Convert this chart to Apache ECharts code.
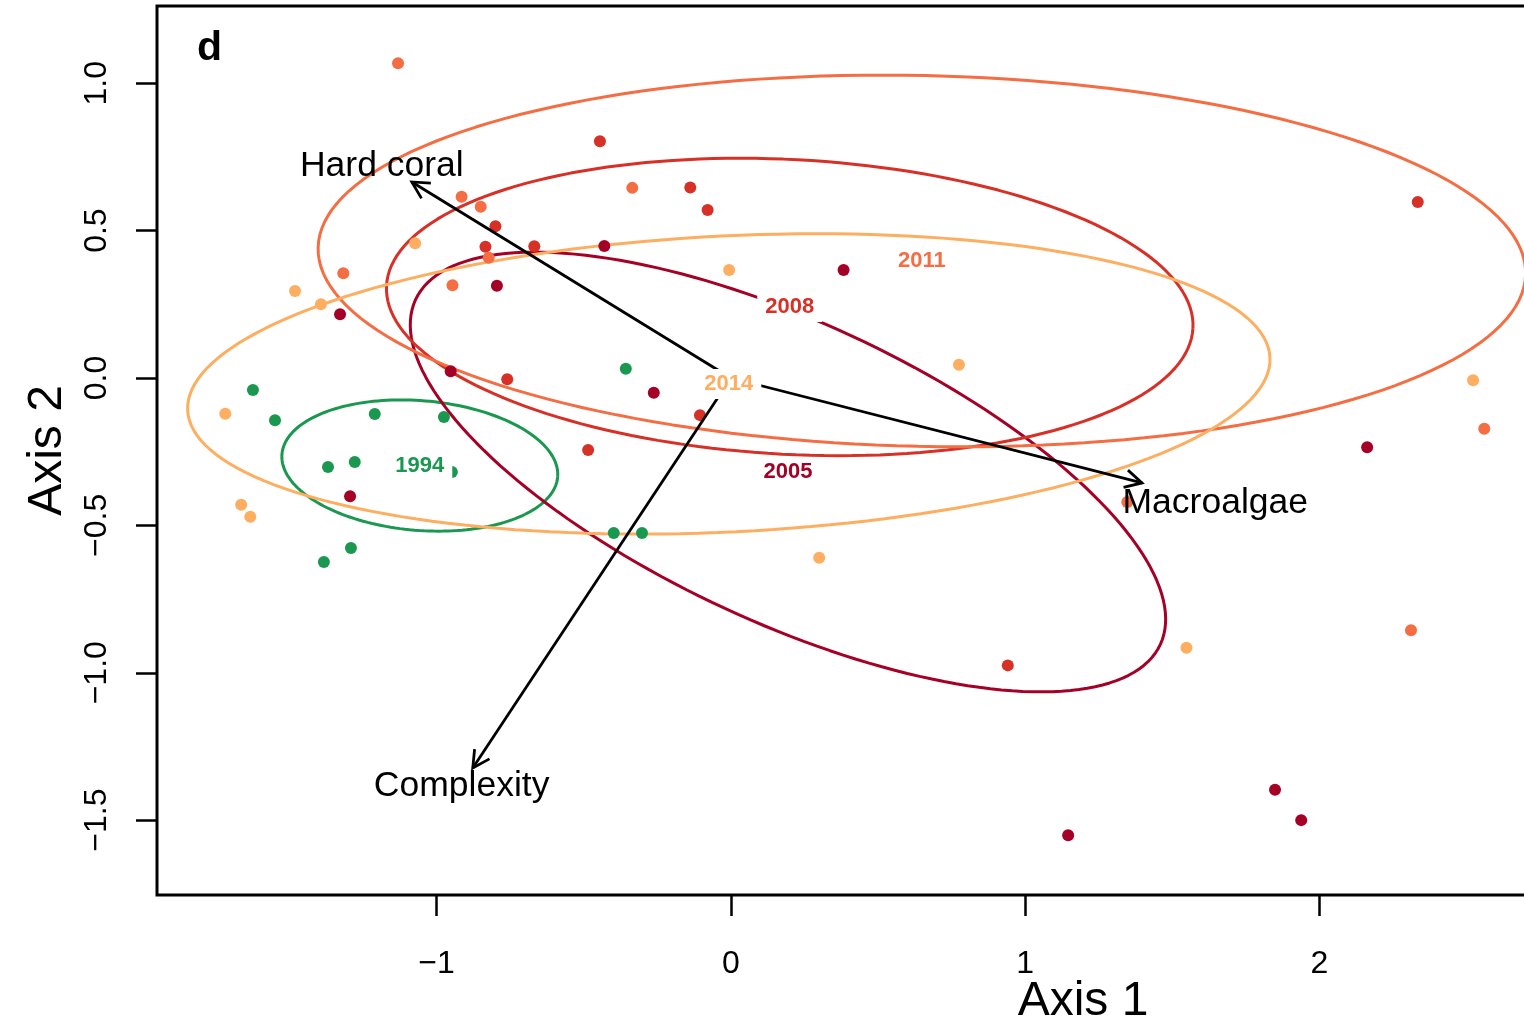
<!DOCTYPE html>
<html>
<head>
<meta charset="utf-8">
<script src="https://cdn.jsdelivr.net/npm/echarts@6/dist/echarts.min.js"></script>
<style>
  html, body { margin: 0; padding: 0; background: #fff; }
  #chart { width: 1524px; height: 1021px; }
</style>
</head>
<body>
<div id="chart"></div>
<script>
// Survey years and their colours
const years = ['1994', '2005', '2008', '2011', '2014'];
const yearColors = ['#1a9850', '#a50026', '#d73027', '#f46d43', '#fdae61'];

// Site scores [Axis 1, Axis 2] for each survey year
const sites1994 = [[-1.624, -0.041], [-1.549, -0.143], [-1.210, -0.122], [-0.975, -0.132],
  [-1.369, -0.302], [-1.278, -0.285], [-0.948, -0.319], [-0.357, 0.031], [-0.398, -0.526],
  [-0.302, -0.526], [-1.291, -0.577], [-1.383, -0.624]];
const sites2005 = [[-1.328, 0.216], [-1.294, -0.401], [-0.952, 0.023], [-0.795, 0.313],
  [-0.430, 0.448], [-0.262, -0.050], [0.383, 0.366], [1.146, -1.551], [1.849, -1.397],
  [1.938, -1.500], [2.162, -0.235]];
const sites2008 = [[-0.445, 0.803], [-0.138, 0.646], [-0.079, 0.570], [-0.800, 0.515],
  [-0.834, 0.445], [-0.668, 0.447], [-0.760, -0.004], [-0.485, -0.244], [-0.105, -0.126],
  [0.941, -0.975], [2.334, 0.597]];
const sites2011 = [[-1.131, 1.068], [-1.317, 0.355], [-0.915, 0.615], [-0.850, 0.581],
  [-0.823, 0.408], [-0.946, 0.315], [-0.335, 0.645], [1.347, -0.421], [2.560, -0.172],
  [2.311, -0.856]];
const sites2014 = [[-1.481, 0.295], [-1.393, 0.250], [-1.073, 0.457], [-1.718, -0.121],
  [-1.664, -0.430], [-1.633, -0.471], [-0.006, 0.366], [0.775, 0.045], [0.300, -0.610],
  [1.548, -0.915], [2.522, -0.008]];

// Group ellipses: centroid, semi-axes and rotation (degrees)
const ellipseCentres = [[-1.057, -0.297], [0.194, -0.319], [0.200, 0.241], [0.649, 0.397], [-0.007, -0.020]];
const ellipseAxes = [[0.470, 0.220], [1.394, 0.510], [1.372, 0.500], [2.052, 0.629], [1.841, 0.502]];
const ellipseAngles = [-4.7, -24.8, -3.0, -1.26, 2.79];

// Fitted environmental vectors
const vectorNames = ['Hard coral', 'Macroalgae', 'Complexity'];
const vectorHeads = [[-1.084, 0.665], [1.397, -0.356], [-0.877, -1.323]];
const vectorLabelPos = [[-1.186, 0.720], [1.646, -0.424], [-0.915, -1.385]];

// Axis ticks
const xTicks = [-1, 0, 1, 2];
const xTickLabels = ['\u22121', '0', '1', '2'];
const yTicks = [-1.5, -1, -0.5, 0, 0.5, 1];
const yTickLabels = ['\u22121.5', '\u22121.0', '\u22120.5', '0.0', '0.5', '1.0'];

const FONT = '"Liberation Sans", Arial, Helvetica, sans-serif';
const siteScores = [sites1994, sites2005, sites2008, sites2011, sites2014];

function ellipsePath(c, ax, angDeg) {
  const th = angDeg * Math.PI / 180;
  const pts = [];
  for (let k = 0; k <= 360; k += 2) {
    const t = k * Math.PI / 180;
    const u = ax[0] * Math.cos(t), v = ax[1] * Math.sin(t);
    pts.push([c[0] + u * Math.cos(th) - v * Math.sin(th), c[1] + u * Math.sin(th) + v * Math.cos(th)]);
  }
  return pts;
}

function tickText(ticks, labels) {
  return v => {
    const i = ticks.findIndex(t => Math.abs(t - v) < 1e-9);
    return i >= 0 ? labels[i] : '';
  };
}

const series = [];

years.forEach((y, i) => {
  series.push({
    type: 'line',
    name: 'ellipse ' + y,
    data: ellipsePath(ellipseCentres[i], ellipseAxes[i], ellipseAngles[i]),
    showSymbol: false,
    symbol: 'none',
    smooth: false,
    lineStyle: { color: yearColors[i], width: 3 },
    z: 2,
    silent: true
  });
});

years.forEach((y, i) => {
  series.push({
    type: 'scatter',
    name: y,
    data: siteScores[i],
    symbol: 'circle',
    symbolSize: 12,
    itemStyle: { color: yearColors[i], opacity: 1 },
    z: 3 + i * 0.1,
    silent: true
  });
});

// Vector arrows from the origin with open heads
series.push({
  type: 'custom',
  name: 'vectors',
  data: vectorHeads,
  z: 5,
  silent: true,
  renderItem(params, api) {
    const p0 = api.coord([0, 0]);
    const p1 = api.coord([api.value(0), api.value(1)]);
    const ang = Math.atan2(p0[1] - p1[1], p0[0] - p1[0]);
    const L = 19, A = 28 * Math.PI / 180;
    const b1 = [p1[0] + L * Math.cos(ang + A), p1[1] + L * Math.sin(ang + A)];
    const b2 = [p1[0] + L * Math.cos(ang - A), p1[1] + L * Math.sin(ang - A)];
    return {
      type: 'group',
      children: [
        { type: 'line', shape: { x1: p0[0], y1: p0[1], x2: p1[0], y2: p1[1] },
          style: { stroke: '#000', lineWidth: 2.8 } },
        { type: 'polyline', shape: { points: [b1, p1, b2] },
          style: { stroke: '#000', fill: null, lineWidth: 2.8 } }
      ]
    };
  }
});

// Vector names
series.push({
  type: 'custom',
  name: 'vector labels',
  data: vectorLabelPos.map((p, i) => [p[0], p[1], i]),
  z: 6,
  silent: true,
  renderItem(params, api) {
    const p = api.coord([api.value(0), api.value(1)]);
    return {
      type: 'text',
      x: p[0], y: p[1],
      style: {
        text: vectorNames[api.value(2)],
        fill: '#000',
        font: '35.5px ' + FONT,
        align: 'center',
        verticalAlign: 'middle'
      }
    };
  }
});

// Year labels at the ellipse centroids
series.push({
  type: 'custom',
  name: 'year labels',
  data: ellipseCentres.map((p, i) => [p[0], p[1], i]),
  z: 7,
  silent: true,
  renderItem(params, api) {
    const p = api.coord([api.value(0), api.value(1)]);
    const i = api.value(2);
    return {
      type: 'text',
      x: p[0], y: p[1],
      style: {
        text: years[i],
        fill: yearColors[i],
        font: 'bold 22px ' + FONT,
        align: 'center',
        verticalAlign: 'middle',
        backgroundColor: '#fff',
        padding: [4, 8]
      }
    };
  }
});

const chart = echarts.init(document.getElementById('chart'), null, { renderer: 'canvas' });
chart.setOption({
  animation: false,
  backgroundColor: '#fff',
  title: {
    text: 'd',
    left: 197,
    top: 28,
    padding: 0,
    textStyle: { fontFamily: FONT, fontWeight: 'bold', fontSize: 41, color: '#000' }
  },
  grid: {
    left: 157,
    top: 6,
    width: 1852,
    height: 889,
    containLabel: false,
    outerBoundsMode: 'none',
    show: true,
    borderColor: '#000',
    borderWidth: 3,
    backgroundColor: 'transparent'
  },
  xAxis: {
    type: 'value',
    min: -1.950,
    max: 4.343,
    name: 'Axis 1',
    nameLocation: 'middle',
    nameGap: 83,
    nameMoveOverlap: false,
    nameTextStyle: { fontFamily: FONT, fontSize: 48, color: '#000' },
    axisLine: { show: false, onZero: false },
    splitLine: { show: false },
    axisTick: { show: true, customValues: xTicks, length: 21, inside: false,
      lineStyle: { color: '#000', width: 2.5 } },
    axisLabel: { customValues: xTicks, formatter: tickText(xTicks, xTickLabels),
      margin: 53, fontFamily: FONT, fontSize: 32, color: '#000' }
  },
  yAxis: {
    type: 'value',
    min: -1.754,
    max: 1.262,
    name: 'Axis 2',
    nameLocation: 'middle',
    nameGap: 85,
    nameMoveOverlap: false,
    nameTextStyle: { fontFamily: FONT, fontSize: 48, color: '#000' },
    axisLine: { show: false, onZero: false },
    splitLine: { show: false },
    axisTick: { show: true, customValues: yTicks, length: 21, inside: false,
      lineStyle: { color: '#000', width: 2.5 } },
    axisLabel: { customValues: yTicks, formatter: tickText(yTicks, yTickLabels),
      rotate: 90, margin: 44, fontFamily: FONT, fontSize: 32, color: '#000' }
  },
  series: series
});
</script>
</body>
</html>
